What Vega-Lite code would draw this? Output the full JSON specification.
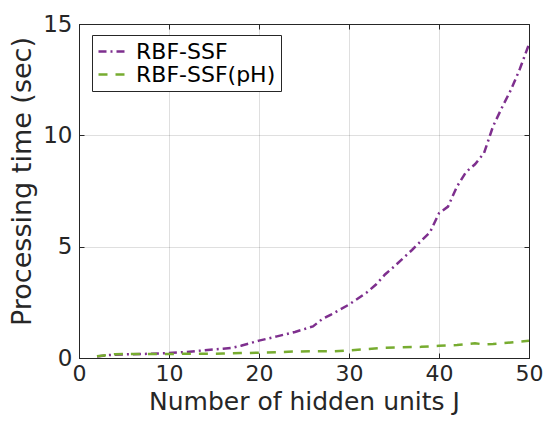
{
  "$schema": "https://vega.github.io/schema/vega-lite/v6.json",
  "autosize": "none",
  "width": 450,
  "height": 334,
  "padding": {"left": 79, "top": 24, "right": 20, "bottom": 67},
  "background": "white",
  "config": {
    "font": "DejaVu Sans",
    "view": {"stroke": "#262626", "strokeWidth": 1},
    "axis": {
      "domainColor": "#262626",
      "tickColor": "#262626",
      "labelColor": "#262626",
      "titleColor": "#262626",
      "labelFont": "DejaVu Sans",
      "titleFont": "DejaVu Sans",
      "labelFontSize": 23,
      "titleFontWeight": "normal",
      "gridColor": "#262626",
      "gridOpacity": 0.15,
      "tickSize": -5
    }
  },
  "data": {
    "values": [
      {"units": 2, "time": 0.07, "series": "RBF-SSF"},
      {"units": 3, "time": 0.12, "series": "RBF-SSF"},
      {"units": 4, "time": 0.15, "series": "RBF-SSF"},
      {"units": 6, "time": 0.17, "series": "RBF-SSF"},
      {"units": 8, "time": 0.19, "series": "RBF-SSF"},
      {"units": 10, "time": 0.22, "series": "RBF-SSF"},
      {"units": 12, "time": 0.27, "series": "RBF-SSF"},
      {"units": 14, "time": 0.35, "series": "RBF-SSF"},
      {"units": 16, "time": 0.42, "series": "RBF-SSF"},
      {"units": 17, "time": 0.46, "series": "RBF-SSF"},
      {"units": 18, "time": 0.55, "series": "RBF-SSF"},
      {"units": 20, "time": 0.78, "series": "RBF-SSF"},
      {"units": 22, "time": 0.97, "series": "RBF-SSF"},
      {"units": 24, "time": 1.17, "series": "RBF-SSF"},
      {"units": 26, "time": 1.42, "series": "RBF-SSF"},
      {"units": 27, "time": 1.74, "series": "RBF-SSF"},
      {"units": 28, "time": 1.95, "series": "RBF-SSF"},
      {"units": 30, "time": 2.4, "series": "RBF-SSF"},
      {"units": 32, "time": 2.95, "series": "RBF-SSF"},
      {"units": 33, "time": 3.3, "series": "RBF-SSF"},
      {"units": 34, "time": 3.75, "series": "RBF-SSF"},
      {"units": 35, "time": 4.1, "series": "RBF-SSF"},
      {"units": 37, "time": 4.85, "series": "RBF-SSF"},
      {"units": 39, "time": 5.65, "series": "RBF-SSF"},
      {"units": 40, "time": 6.5, "series": "RBF-SSF"},
      {"units": 41, "time": 6.8, "series": "RBF-SSF"},
      {"units": 42, "time": 7.7, "series": "RBF-SSF"},
      {"units": 43, "time": 8.35, "series": "RBF-SSF"},
      {"units": 44, "time": 8.7, "series": "RBF-SSF"},
      {"units": 45, "time": 9.2, "series": "RBF-SSF"},
      {"units": 46, "time": 10.4, "series": "RBF-SSF"},
      {"units": 47, "time": 11.25, "series": "RBF-SSF"},
      {"units": 48, "time": 12.05, "series": "RBF-SSF"},
      {"units": 49, "time": 13.0, "series": "RBF-SSF"},
      {"units": 50, "time": 14.1, "series": "RBF-SSF"},
      {"units": 2, "time": 0.08, "series": "RBF-SSF(pH)"},
      {"units": 4, "time": 0.17, "series": "RBF-SSF(pH)"},
      {"units": 6, "time": 0.18, "series": "RBF-SSF(pH)"},
      {"units": 8, "time": 0.18, "series": "RBF-SSF(pH)"},
      {"units": 10, "time": 0.18, "series": "RBF-SSF(pH)"},
      {"units": 12, "time": 0.19, "series": "RBF-SSF(pH)"},
      {"units": 14, "time": 0.19, "series": "RBF-SSF(pH)"},
      {"units": 16, "time": 0.2, "series": "RBF-SSF(pH)"},
      {"units": 18, "time": 0.22, "series": "RBF-SSF(pH)"},
      {"units": 20, "time": 0.24, "series": "RBF-SSF(pH)"},
      {"units": 22, "time": 0.26, "series": "RBF-SSF(pH)"},
      {"units": 24, "time": 0.29, "series": "RBF-SSF(pH)"},
      {"units": 26, "time": 0.3, "series": "RBF-SSF(pH)"},
      {"units": 28, "time": 0.3, "series": "RBF-SSF(pH)"},
      {"units": 30, "time": 0.34, "series": "RBF-SSF(pH)"},
      {"units": 32, "time": 0.4, "series": "RBF-SSF(pH)"},
      {"units": 34, "time": 0.46, "series": "RBF-SSF(pH)"},
      {"units": 36, "time": 0.48, "series": "RBF-SSF(pH)"},
      {"units": 38, "time": 0.5, "series": "RBF-SSF(pH)"},
      {"units": 40, "time": 0.55, "series": "RBF-SSF(pH)"},
      {"units": 42, "time": 0.58, "series": "RBF-SSF(pH)"},
      {"units": 44, "time": 0.66, "series": "RBF-SSF(pH)"},
      {"units": 45, "time": 0.61, "series": "RBF-SSF(pH)"},
      {"units": 46, "time": 0.63, "series": "RBF-SSF(pH)"},
      {"units": 48, "time": 0.7, "series": "RBF-SSF(pH)"},
      {"units": 50, "time": 0.78, "series": "RBF-SSF(pH)"}
    ]
  },
  "resolve": {"axis": {"x": "independent", "y": "independent"}},
  "layer": [
    {
      "mark": {"type": "line", "strokeWidth": 2.5, "clip": true},
      "encoding": {
        "x": {
          "field": "units", "type": "quantitative",
          "scale": {"domain": [0, 50], "nice": false, "zero": false},
          "axis": {
            "orient": "bottom", "values": [0, 10, 20, 30, 40, 50],
            "grid": true, "labelPadding": 10, "labelFontSize": 22, "labelFlush": false,
            "title": "Number of hidden units J", "titleFontSize": 25,
            "titleBaseline": "alphabetic", "titleY": 51
          }
        },
        "y": {
          "field": "time", "type": "quantitative",
          "scale": {"domain": [0, 15], "nice": false},
          "axis": {
            "orient": "left", "values": [0, 5, 10, 15],
            "grid": true, "labelPadding": 12, "labelFlush": false,
            "title": "Processing time (sec)", "titleFontSize": 27,
            "titleAngle": -90, "titleBaseline": "middle", "titleAlign": "center",
            "titleX": -57, "titleY": 157
          }
        },
        "color": {
          "field": "series", "type": "nominal",
          "scale": {"domain": ["RBF-SSF", "RBF-SSF(pH)"], "range": ["#7E2F8E", "#77AC30"]},
          "legend": {
            "title": null, "orient": "none", "legendX": 13, "legendY": 11,
            "symbolType": "stroke", "symbolSize": 841, "symbolStrokeWidth": 2.5,
            "labelFontSize": 22, "labelColor": "black", "labelOffset": 7,
            "fillColor": "white", "strokeColor": "#262626", "padding": 5,
            "rowPadding": 0, "clipHeight": 23
          }
        },
        "strokeDash": {
          "field": "series", "type": "nominal",
          "scale": {"domain": ["RBF-SSF", "RBF-SSF(pH)"], "range": [[8, 4, 2, 4], [9, 8]]},
          "legend": {
            "title": null, "orient": "none", "legendX": 13, "legendY": 11,
            "symbolType": "stroke", "symbolSize": 841, "symbolStrokeWidth": 2.5,
            "labelFontSize": 22, "labelColor": "black", "labelOffset": 7,
            "fillColor": "white", "strokeColor": "#262626", "padding": 5,
            "rowPadding": 0, "clipHeight": 23
          }
        }
      }
    },
    {
      "mark": {"type": "point", "opacity": 0, "size": 0},
      "encoding": {
        "x": {
          "field": "units", "type": "quantitative",
          "axis": {"orient": "top", "values": [0, 10, 20, 30, 40, 50], "labels": false, "grid": false, "domain": false, "title": null}
        },
        "y": {
          "field": "time", "type": "quantitative",
          "axis": {"orient": "right", "values": [0, 5, 10, 15], "labels": false, "grid": false, "domain": false, "title": null}
        }
      }
    }
  ]
}
